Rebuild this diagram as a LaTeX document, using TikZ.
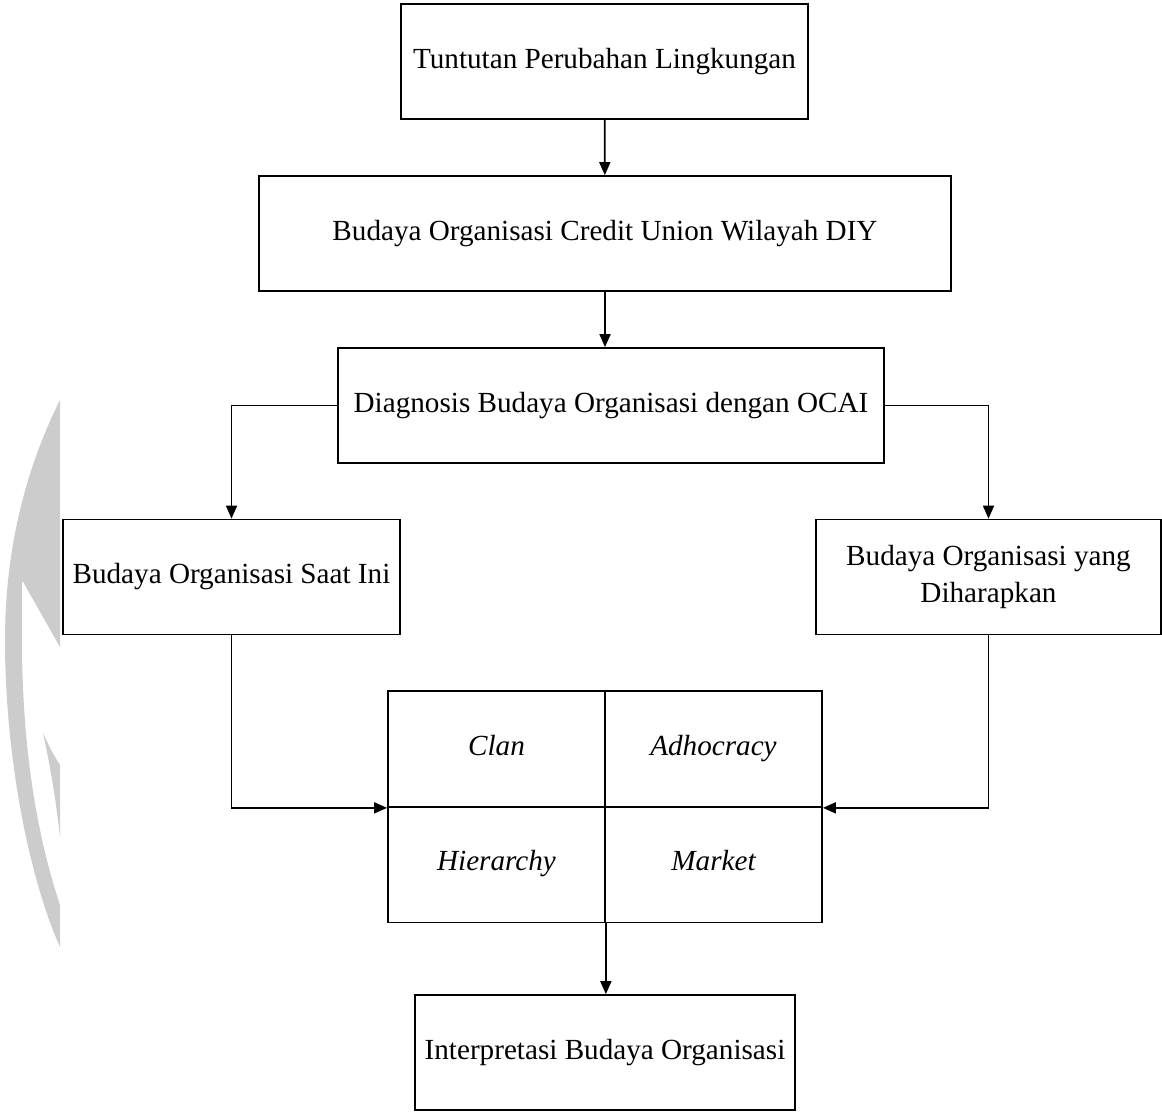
\documentclass[tikz,border=0pt]{standalone}
\usepackage{fontspec}
\setmainfont{Liberation Serif}
\usetikzlibrary{arrows.meta}
\begin{document}
\begin{tikzpicture}[x=0.02cm, y=-0.02cm, every node/.style={font=\fontsize{16.6}{21}\selectfont},
  box/.style={draw,line width=1pt,minimum width=#1,minimum height=2.3cm,align=center,inner sep=0pt},
  cell/.style={draw,line width=1pt,minimum width=4.34cm,minimum height=2.32cm,text height=2.2ex,text depth=0.6ex,font=\fontsize{16.6}{21}\selectfont\itshape},
  arr/.style={line width=1pt,-{Triangle[length=2.6mm,width=2.2mm]}}]
\useasboundingbox (0,0) rectangle (1162,1114);
\fill[black!20] (60,400) .. controls (30,460) and (5,540) .. (5,640) .. controls (5,760) and (30,880) .. (60,947)
  -- (60,905) .. controls (35,830) and (22,740) .. (22,640) -- (22,580) -- (60,647) -- cycle;
\fill[black!20] (43,733) .. controls (50,765) and (56,800) .. (60,837) -- (60,765) .. controls (52,752) .. (43,733);
\node[box=8.14cm] (tuntutan) at (604.5,61.5) {Tuntutan Perubahan Lingkungan};
\node[box=13.84cm] (cu) at (605,233.5) {Budaya Organisasi Credit Union Wilayah DIY};
\node[box=10.92cm] (diag) at (611,405.5) {Diagnosis Budaya Organisasi dengan OCAI};
\node[box=6.74cm] (saat) at (231.5,577) {Budaya Organisasi Saat Ini};
\node[box=6.9cm] (harap) at (988.5,577) {Budaya Organisasi yang\\Diharapkan};
\node[cell] (clan) at (496.5,749) {Clan};
\node[cell] (adhoc) at (713.5,749) {Adhocracy};
\node[cell] (hier) at (496.5,864.5) {Hierarchy};
\node[cell] (market) at (713.5,864.5) {Market};
\node[box=7.6cm] (interp) at (605,1052.5) {Interpretasi Budaya Organisasi};
\draw[arr] (tuntutan) -- (cu);
\draw[arr] (cu) -- (diag.north -| cu);
\draw[arr] (diag.west) -| (saat.north);
\draw[arr] (diag.east) -| (harap.north);
\draw[arr] (saat.south) |- (clan.south west);
\draw[arr] (harap.south) |- (adhoc.south east);
\draw[arr] (hier.south east) -- (hier.south east |- interp.north);
\end{tikzpicture}
\end{document}
